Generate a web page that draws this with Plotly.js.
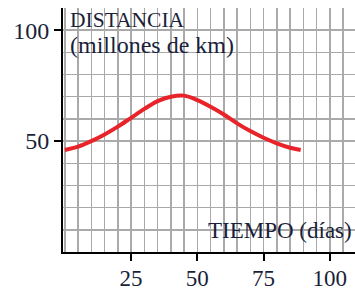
<!DOCTYPE html>
<html><head><meta charset="utf-8">
<script src="https://cdn.plot.ly/plotly-3.0.1.min.js"></script>
<style>html,body{margin:0;padding:0;background:#fff;}#chart{width:355px;height:293px;}</style>
</head><body><div id="chart"></div>
<script>
var dias = [0,5,10,15,20,25,30,35,40,45,50,55,60,65,70,75,80,85,89];
var distancia = [46,47.5,50,53,56.5,60.5,64.5,68,70,70.5,68.5,65.5,62,58,54.5,51.5,49,47,46];
var xTicks = [25,50,75,100];
var yTicks = [50,100];
var textColor = '#1a1f3a';
var serif = 'Liberation Serif, Times New Roman, serif';

var trace = {x:dias, y:distancia, type:'scatter', mode:'lines',
  line:{color:'#e8232a', width:4, shape:'spline'}, hoverinfo:'skip'};

var layout = {
  width:355, height:293,
  margin:{l:63, r:0, t:8, b:41},
  paper_bgcolor:'#fff', plot_bgcolor:'#fff',
  showlegend:false,
  xaxis:{range:[-0.7,109.5], tickvals:xTicks, ticktext:xTicks.map(String),
    showgrid:true, gridcolor:'#aaaaaa', gridwidth:1.5,
    minor:{dtick:5, tick0:0, showgrid:true, gridcolor:'#aaaaaa', gridwidth:1.5, ticks:''},
    zeroline:false, showline:true, linecolor:'#000', linewidth:2,
    ticks:'outside', ticklen:7, tickwidth:2, tickcolor:'#000', ticklabelstandoff:-3,
    tickfont:{family:serif, size:23, color:textColor}, fixedrange:true},
  yaxis:{range:[0,110], tickvals:yTicks, ticktext:yTicks.map(String),
    showgrid:true, gridcolor:'#aaaaaa', gridwidth:1.5,
    minor:{dtick:10, tick0:0, showgrid:true, gridcolor:'#aaaaaa', gridwidth:1.5, ticks:''},
    zeroline:false, showline:true, linecolor:'#000', linewidth:2,
    ticks:'outside', ticklen:7, tickwidth:2, tickcolor:'#000',
    tickfont:{family:serif, size:24, color:textColor}, fixedrange:true},
  annotations:[
    {text:'DISTANCIA', x:1, y:104.6, xref:'x', yref:'y', xanchor:'left', yanchor:'middle', showarrow:false,
      font:{family:serif, size:21.5, color:textColor}},
    {text:'(millones de km)', x:1, y:93.3, xref:'x', yref:'y', xanchor:'left', yanchor:'middle', showarrow:false,
      font:{family:serif, size:24, color:textColor}},
    {text:'TIEMPO (días)', x:109.3, y:9.9, xref:'x', yref:'y', xanchor:'right', yanchor:'middle', showarrow:false,
      font:{family:serif, size:23, color:textColor}}
  ]
};
Plotly.newPlot('chart', [trace], layout, {displayModeBar:false, staticPlot:true});
</script></body></html>
